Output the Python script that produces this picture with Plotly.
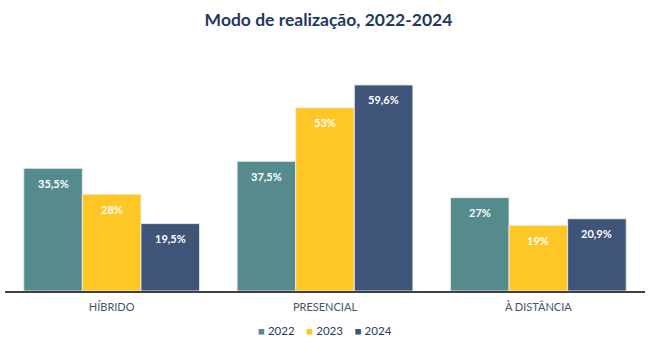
import plotly.graph_objects as go

# Modo de realização por ano (%)
categories = ["HÍBRIDO", "PRESENCIAL", "À DISTÂNCIA"]
years = ["2022", "2023", "2024"]
values_2022 = [35.5, 37.5, 27.0]
values_2023 = [28.0, 53.0, 19.0]
values_2024 = [19.5, 59.6, 20.9]
series = [values_2022, values_2023, values_2024]
colors = ["#568B8E", "#FFC726", "#3F5479"]

FONT = "Lato, Open Sans, sans-serif"


def pct_label(v):
    s = f"{v:.1f}".rstrip("0").rstrip(".")
    return s.replace(".", ",") + "%"


fig = go.Figure()
for year, vals, col in zip(years, series, colors):
    fig.add_trace(go.Bar(
        name=year,
        x=categories,
        y=vals,
        marker=dict(color=col, line=dict(color="rgba(235,235,235,0.9)", width=1)),
        hoverinfo="x+y+name",
    ))

# value labels inside the top of each bar
for i, (vals, col) in enumerate(zip(series, colors)):
    for j, v in enumerate(vals):
        fig.add_annotation(
            x=categories[j], y=v, xref="x", yref="y",
            text=f"<b>{pct_label(v)}</b>",
            showarrow=False, yshift=-15, xshift=(i - 1) * 58.5,
            font=dict(family=FONT, size=11, color="white"),
        )

# compact legend row: coloured square + year
sep = "&nbsp;" * 4
legend_text = sep.join(
    f"<span style='color:{c}'>■</span>&nbsp;{y}" for y, c in zip(years, colors)
)
fig.add_annotation(
    x=0.5, xref="paper", xanchor="center",
    y=-0.165, yref="paper", yanchor="middle",
    text=legend_text, showarrow=False,
    font=dict(family=FONT, size=11.5, color="#1F3864"),
)

fig.update_layout(
    width=657, height=349,
    margin=dict(l=5, r=12, t=49, b=58),
    paper_bgcolor="white", plot_bgcolor="white",
    barmode="group", bargap=0.176, bargroupgap=0,
    title=dict(
        text="<b>Modo de realização, 2022-2024</b>",
        x=0.5, xanchor="center", y=1 - 20 / 349, yanchor="middle", yref="container",
        font=dict(family=FONT, size=17.5, color="#1F3864"),
    ),
    xaxis=dict(
        showline=True, linecolor="#404040", linewidth=2,
        ticks="", showgrid=False, ticklabelstandoff=5,
        tickfont=dict(family=FONT, size=11, color="#44546A"),
    ),
    yaxis=dict(range=[0, 70], visible=False, showgrid=False),
    showlegend=False,
)

fig.write_html("out.html")
